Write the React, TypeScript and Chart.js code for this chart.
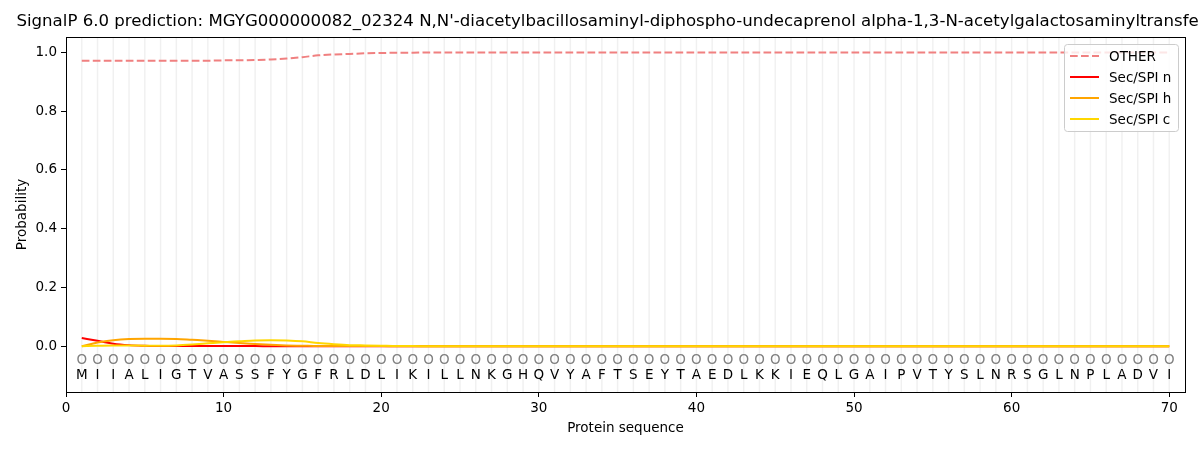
import { useEffect, useRef } from 'react'
import { Chart, registerables } from 'chart.js'

Chart.register(...registerables)

const TITLE =
  "SignalP 6.0 prediction: MGYG000000082_02324 N,N'-diacetylbacillosaminyl-diphospho-undecaprenol alpha-1,3-N-acetylgalactosaminyltransferase"

const SEQUENCE = 'MIIALIGTVASSFYGFRLDLIKILLNKGHQVYAFTSEYTAEDLKKIEQLGAIPVTYSLNRSGLNPLADVI'.split('')
const POSITIONS = SEQUENCE.map((_, i) => i + 1)

const X_TICKS = [0, 10, 20, 30, 40, 50, 60, 70]
const Y_TICKS = [0, 0.2, 0.4, 0.6, 0.8, 1.0]

const OTHER = [
  0.972, 0.972, 0.972, 0.972, 0.972, 0.972, 0.972, 0.972, 0.972, 0.973,
  0.973, 0.974, 0.976, 0.979, 0.984, 0.990, 0.993, 0.995, 0.997, 0.998,
  0.999, 0.999, 1.0, 1.0, 1.0, 1.0, 1.0, 1.0, 1.0, 1.0,
  1.0, 1.0, 1.0, 1.0, 1.0, 1.0, 1.0, 1.0, 1.0, 1.0,
  1.0, 1.0, 1.0, 1.0, 1.0, 1.0, 1.0, 1.0, 1.0, 1.0,
  1.0, 1.0, 1.0, 1.0, 1.0, 1.0, 1.0, 1.0, 1.0, 1.0,
  1.0, 1.0, 1.0, 1.0, 1.0, 1.0, 1.0, 1.0, 1.0, 1.0,
]
const SEC_N = [
  0.028, 0.019, 0.009, 0.004, 0.002, 0.001, 0.001, 0.001, 0.001, 0.001,
  0.001, 0.001, 0, 0, 0, 0, 0, 0, 0, 0,
  0, 0, 0, 0, 0, 0, 0, 0, 0, 0,
  0, 0, 0, 0, 0, 0, 0, 0, 0, 0,
  0, 0, 0, 0, 0, 0, 0, 0, 0, 0,
  0, 0, 0, 0, 0, 0, 0, 0, 0, 0,
  0, 0, 0, 0, 0, 0, 0, 0, 0, 0,
]
const SEC_H = [
  0.0, 0.013, 0.021, 0.025, 0.026, 0.026, 0.025, 0.022, 0.019, 0.015,
  0.011, 0.008, 0.005, 0.003, 0.002, 0.001, 0.001, 0.001, 0.001, 0.001,
  0, 0, 0, 0, 0, 0, 0, 0, 0, 0,
  0, 0, 0, 0, 0, 0, 0, 0, 0, 0,
  0, 0, 0, 0, 0, 0, 0, 0, 0, 0,
  0, 0, 0, 0, 0, 0, 0, 0, 0, 0,
  0, 0, 0, 0, 0, 0, 0, 0, 0, 0,
]
const SEC_C = [
  0.0, 0.002, 0.003, 0.003, 0.002, 0.002, 0.003, 0.006, 0.010, 0.014,
  0.017, 0.020, 0.021, 0.020, 0.017, 0.011, 0.007, 0.004, 0.003, 0.002,
  0.001, 0.001, 0, 0, 0, 0, 0, 0, 0, 0,
  0, 0, 0, 0, 0, 0, 0, 0, 0, 0,
  0, 0, 0, 0, 0, 0, 0, 0, 0, 0,
  0, 0, 0, 0, 0, 0, 0, 0, 0, 0,
  0, 0, 0, 0, 0, 0, 0, 0, 0, 0,
]

const FONT = '"DejaVu Sans", sans-serif'

const SERIES = [
  { label: 'OTHER', data: OTHER, color: 'rgba(240, 128, 128, 1)', dash: [7.7, 3.3] },
  { label: 'Sec/SPI n', data: SEC_N, color: '#ff0000', dash: [] },
  { label: 'Sec/SPI h', data: SEC_H, color: '#ffa500', dash: [] },
  { label: 'Sec/SPI c', data: SEC_C, color: '#ffd700', dash: [] },
]

// grid lines, sequence text, frame, title and legend drawn around the scales
const decorations = {
  id: 'decorations',
  beforeDatasetsDraw(chart: any) {
    const { ctx, chartArea } = chart
    const x = chart.scales.x
    ctx.save()
    ctx.strokeStyle = 'rgba(0, 0, 0, 0.06)'
    ctx.lineWidth = 1.5
    POSITIONS.forEach(p => {
      const px = x.getPixelForValue(p)
      ctx.beginPath()
      ctx.moveTo(px, chartArea.top)
      ctx.lineTo(px, chartArea.bottom)
      ctx.stroke()
    })
    ctx.restore()
  },
  afterDraw(chart: any) {
    const { ctx, chartArea } = chart
    const x = chart.scales.x
    const y = chart.scales.y
    ctx.save()

    // sequence letters and state markers
    ctx.textAlign = 'center'
    ctx.textBaseline = 'middle'
    ctx.font = `13.5px ${FONT}`
    SEQUENCE.forEach((aa, i) => {
      const px = x.getPixelForValue(POSITIONS[i])
      ctx.fillStyle = '#808080'
      ctx.fillText('O', px, y.getPixelForValue(-0.048))
      ctx.fillStyle = '#000'
      ctx.fillText(aa, px, y.getPixelForValue(-0.1))
    })

    // frame
    ctx.strokeStyle = '#000'
    ctx.lineWidth = 1
    ctx.strokeRect(
      Math.round(chartArea.left) + 0.5,
      Math.round(chartArea.top) + 0.5,
      Math.round(chartArea.right - chartArea.left),
      Math.round(chartArea.bottom - chartArea.top)
    )

    // title and axis titles
    ctx.fillStyle = '#000'
    ctx.font = `16.6px ${FONT}`
    ctx.textAlign = 'center'
    ctx.textBaseline = 'middle'
    ctx.fillText(TITLE, (chartArea.left + chartArea.right) / 2, 22)
    ctx.font = `13.5px ${FONT}`
    ctx.fillText('Protein sequence', (chartArea.left + chartArea.right) / 2, 428)
    ctx.save()
    ctx.translate(22, (chartArea.top + chartArea.bottom) / 2)
    ctx.rotate(-Math.PI / 2)
    ctx.fillText('Probability', 0, 0)
    ctx.restore()

    // legend
    const lx = 1064, ly = 44, lw = 114, lh = 87
    ctx.fillStyle = 'rgba(255, 255, 255, 0.8)'
    ctx.strokeStyle = '#cccccc'
    ctx.lineWidth = 1
    ctx.beginPath()
    ctx.roundRect(lx + 0.5, ly + 0.5, lw, lh, 3)
    ctx.fill()
    ctx.stroke()
    ctx.textAlign = 'left'
    ctx.font = `13.5px ${FONT}`
    SERIES.forEach((s, i) => {
      const ry = 56 + i * 21
      ctx.strokeStyle = s.color
      ctx.lineWidth = 2
      ctx.setLineDash(s.dash)
      ctx.beginPath()
      ctx.moveTo(1070, ry)
      ctx.lineTo(1099, ry)
      ctx.stroke()
      ctx.setLineDash([])
      ctx.fillStyle = '#000'
      ctx.fillText(s.label, 1109, ry + 1)
    })
    ctx.restore()
  },
}

export default function App() {
  const canvasRef = useRef<HTMLCanvasElement>(null)
  const chartRef = useRef<Chart | null>(null)

  useEffect(() => {
    document.body.style.margin = '0'
    if (!canvasRef.current) return
    if (chartRef.current) chartRef.current.destroy()

    chartRef.current = new Chart(canvasRef.current, {
      type: 'line',
      data: {
        datasets: SERIES.map((s, i) => ({
          label: s.label,
          data: s.data.map((v, j) => ({ x: POSITIONS[j], y: v })),
          borderColor: s.color,
          borderWidth: 2,
          borderDash: s.dash,
          pointRadius: 0,
          fill: false,
          cubicInterpolationMode: 'monotone' as const,
          order: SERIES.length - 1 - i,
        })),
      },
      options: {
        responsive: false,
        animation: false,
        devicePixelRatio: 1,
        layout: { padding: { top: 37, right: 15, left: 0, bottom: 0 } },
        plugins: {
          legend: { display: false },
          title: { display: false },
          tooltip: { enabled: false },
        },
        scales: {
          x: {
            type: 'linear',
            min: 0,
            max: 71,
            afterBuildTicks: (scale: any) => {
              scale.ticks = X_TICKS.map(v => ({ value: v }))
            },
            afterFit: (scale: any) => {
              scale.height = 58
            },
            ticks: {
              color: '#000',
              font: { family: FONT, size: 13.5 },
              padding: 3,
              maxRotation: 0,
              callback: (v: any) => String(v),
            },
            grid: { drawOnChartArea: false, tickLength: 5, color: '#000' },
            border: { display: false },
          },
          y: {
            type: 'linear',
            min: -0.1555,
            max: 1.0525,
            afterBuildTicks: (scale: any) => {
              scale.ticks = Y_TICKS.map(v => ({ value: v }))
            },
            afterFit: (scale: any) => {
              scale.width = 66
            },
            ticks: {
              color: '#000',
              font: { family: FONT, size: 13.5 },
              padding: 4,
              callback: (v: any) => Number(v).toFixed(1),
            },
            grid: { drawOnChartArea: false, tickLength: 5, color: '#000' },
            border: { display: false },
          },
        },
      },
      plugins: [decorations],
    })

    return () => {
      if (chartRef.current) {
        chartRef.current.destroy()
        chartRef.current = null
      }
    }
  }, [])

  return (
    <div style={{ width: 1200, height: 450, background: '#fff' }}>
      <canvas ref={canvasRef} width={1200} height={450} />
    </div>
  )
}
